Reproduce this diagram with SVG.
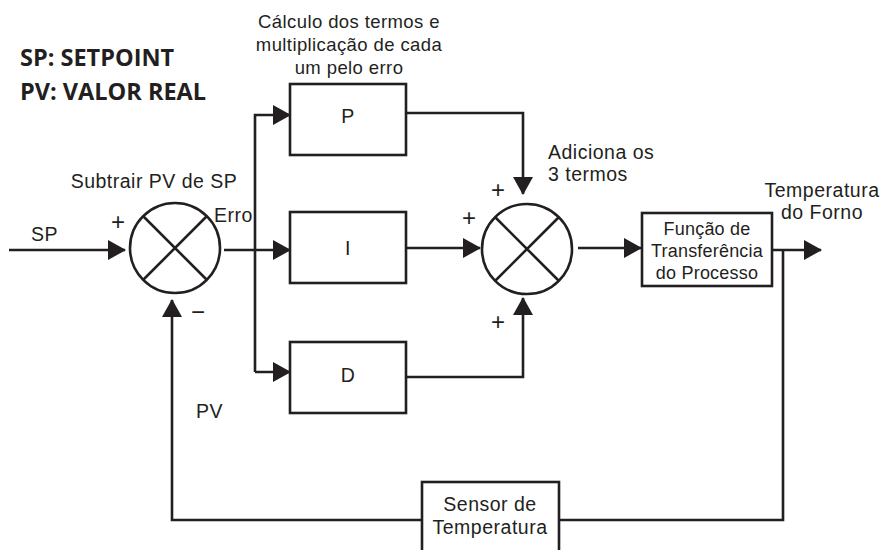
<svg xmlns="http://www.w3.org/2000/svg" width="883" height="550" viewBox="0 0 883 550">
<defs>
<marker id="ah" markerUnits="userSpaceOnUse" markerWidth="18" markerHeight="20" viewBox="0 0 18 20" refX="17" refY="10" orient="auto">
<path d="M0,0 L18,10 L0,20 Z" fill="#231f20"/>
</marker>
</defs>
<style>
.ln{fill:none;stroke:#231f20;stroke-width:2.6}
.bx{fill:#fff;stroke:#231f20;stroke-width:2.6}
.t{font-family:"Liberation Sans",Arial,sans-serif;font-size:19.5px;letter-spacing:0.5px;fill:#231f20}
.h{font-size:18.5px;letter-spacing:0.4px}
.pr{font-size:18px;letter-spacing:0.2px}
.s{font-family:"Liberation Sans",sans-serif;font-size:24px;font-weight:300;fill:#231f20}
.m{text-anchor:middle}
.b{font-family:"Open Sans","Liberation Sans",sans-serif;font-size:23.5px;font-weight:bold;fill:#231f20}
</style>
<rect width="883" height="550" fill="#fff"/>
<text class="b" x="20" y="66">SP: SETPOINT</text>
<text class="b" x="20" y="100">PV: VALOR REAL</text>
<g id="connectors">
<path class="ln" d="M9,250 H125" marker-end="url(#ah)"/>
<path class="ln" d="M224,250 H290" marker-end="url(#ah)"/>
<path class="ln" d="M255,372 V115 H290" marker-end="url(#ah)"/>
<path class="ln" d="M255,372 H290" marker-end="url(#ah)"/>
<path class="ln" d="M406,113 H523 V194" marker-end="url(#ah)"/>
<path class="ln" d="M406,248 H480" marker-end="url(#ah)"/>
<path class="ln" d="M406,377 H523 V298" marker-end="url(#ah)"/>
<path class="ln" d="M578,248 H641" marker-end="url(#ah)"/>
<path class="ln" d="M772,250 H821" marker-end="url(#ah)"/>
<path class="ln" d="M783,250 V520 H559"/>
<path class="ln" d="M422,520 H172 V300" marker-end="url(#ah)"/>
</g>
<g id="sum1">
<circle class="ln" cx="175" cy="248" r="45"/>
<path class="ln" d="M143,216 L207,280 M207,216 L143,280"/>
<text class="t m" x="154" y="188">Subtrair PV de SP</text>
<text class="s" x="111" y="230">+</text>
<text class="s" x="191" y="320">−</text>
<text class="t" x="214" y="222">Erro</text>
</g>
<g id="sp-label"><text class="t" x="31" y="241">SP</text></g>
<g id="pv-label"><text class="t" x="196" y="418">PV</text></g>
<g id="header">
<text class="t h m" x="349" y="28">Cálculo dos termos e<tspan x="349" dy="23">multiplicação de cada</tspan><tspan x="349" dy="23">um pelo erro</tspan></text>
</g>
<g id="P"><rect class="bx" x="290" y="84" width="116" height="71"/><text class="t m" x="348" y="123">P</text></g>
<g id="I"><rect class="bx" x="290" y="212" width="116" height="71"/><text class="t m" x="348" y="255">I</text></g>
<g id="D"><rect class="bx" x="290" y="342" width="116" height="71"/><text class="t m" x="348" y="382">D</text></g>
<g id="sum2">
<circle class="ln" cx="527" cy="249" r="45"/>
<path class="ln" d="M495,217 L559,281 M559,217 L495,281"/>
<text class="s" x="491" y="198">+</text>
<text class="s" x="462" y="226">+</text>
<text class="s" x="491" y="330">+</text>
<text class="t" x="548" y="159">Adiciona os<tspan x="548" dy="22">3 termos</tspan></text>
</g>
<g id="process">
<rect class="bx" x="642" y="213" width="130" height="73"/>
<text class="t pr m" x="707" y="235">Função de<tspan x="707" dy="22">Transferência</tspan><tspan x="707" dy="22">do Processo</tspan></text>
</g>
<g id="out-label">
<text class="t m" x="822" y="197">Temperatura<tspan x="822" dy="22">do Forno</tspan></text>
</g>
<g id="sensor">
<rect class="bx" x="422" y="482" width="137" height="70"/>
<text class="t m" x="490" y="511">Sensor de<tspan x="490" dy="23">Temperatura</tspan></text>
</g>
</svg>
